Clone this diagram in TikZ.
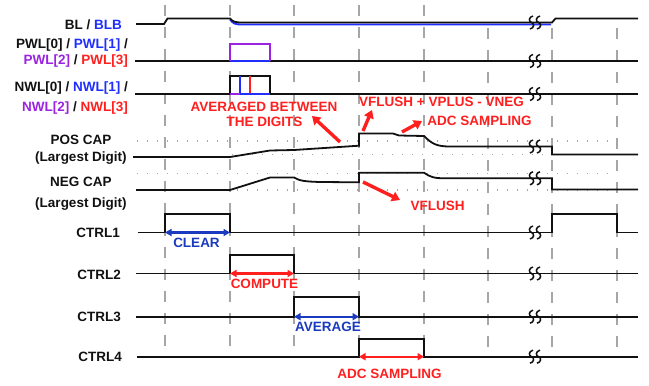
\documentclass[tikz,border=0pt]{standalone}
\usepackage{fontspec}
\setsansfont{Liberation Sans}
\usepackage{tikz}
\usetikzlibrary{positioning,arrows.meta,calc}
\definecolor{ink}      {HTML}{111111}
\definecolor{sigblue}  {HTML}{1F2EFF}
\definecolor{sigpurple}{HTML}{9A22E0}
\definecolor{sigred}   {HTML}{FF1F1F}
\definecolor{spanblue} {HTML}{1A3ABF}
\definecolor{gridgray} {HTML}{A6A6A6}
\tikzset{
  >=stealth,
  every node/.style={font=\sffamily\bfseries\fontsize{13.5}{15}\selectfont,
                     inner sep=0pt, text height=9.7pt, text depth=0pt},
  % --- nodes
  lbl/.style   = {anchor=east, text=ink},
  stack/.style = {text=ink},
  note/.style  = {text=sigred},
  % --- lines
  wave/.style  = {draw=ink, line width=1.8pt},
  tone/.style  = {line width=1.8pt},
  grid/.style  = {draw=gridgray, line width=1.9pt, dash pattern=on 11pt off 11pt},
  dots/.style  = {draw=gridgray, line width=1.4pt, dash pattern=on 1.4pt off 8.6pt},
  span/.style  = {line width=2.4pt, {Triangle[length=6.5pt,width=7pt]}-{Triangle[length=6.5pt,width=7pt]}},
  call/.style  = {draw=sigred, line width=3.4pt, -{Triangle[length=8pt,width=10pt]}},
  brk/.pic     = {
    \draw[ink, line width=1.5pt] (-2,-6.5) .. controls (-6.5,-5.5) and (-6.5,-1) .. (-3.5,0)
                                 .. controls (-0.5,1) and (-0.5,5.5) .. (-5,6.5);
    \draw[ink, line width=1.5pt] (5,-6.5) .. controls (0.5,-5.5) and (0.5,-1) .. (3.5,0)
                                 .. controls (6.5,1) and (6.5,5.5) .. (2,6.5);
  },
}

\begin{document}
\begin{tikzpicture}[x=1pt,y=-1pt]
  \useasboundingbox (0,0) rectangle (649,386);
  % grid
  \foreach \gx in {165,230,294,359,424} \draw[grid] (\gx,5) -- (\gx,357);
  \foreach \gx in {488,552,617} \draw[grid] (\gx,28) -- (\gx,357);
  \draw[dots] (137,141) -- (612,141);
  \draw[dots] (232,154.5) -- (612,154.5);
  \draw[dots] (137,173.5) -- (612,173.5);
  \draw[dots] (137,190) -- (612,190);

  % signal names
  \node[lbl] (bl) at (122,24.5) {BL / \textcolor{sigblue}{BLB}};
  \node[lbl] (pwla) at (128,44) {PWL[0] / \textcolor{sigblue}{PWL[1]} /};
  \node[lbl] (pwlb) at (128,60) {\textcolor{sigpurple}{PWL[2]} / \textcolor{sigred}{PWL[3]}};
  \node[lbl] (nwla) at (128,86.5) {NWL[0] / \textcolor{sigblue}{NWL[1]} /};
  \node[lbl] (nwlb) at (128,106.7) {\textcolor{sigpurple}{NWL[2]} / \textcolor{sigred}{NWL[3]}};
  \node[stack] (pos) at (81,140) {POS CAP};
  \node[stack] (posd) at (81,156.7) {(Largest Digit)};
  \node[stack] (neg) at (81,182) {NEG CAP};
  \node[stack] (negd) at (81,203) {(Largest Digit)};
  \node[lbl] (ca) at (120,232.7) {CTRL1};
  \node[lbl] (cb) at (121,275) {CTRL2};
  \node[lbl] (cc) at (121,316.7) {CTRL3};
  \node[lbl] (cd) at (122,357) {CTRL4};

  % BL / BLB
  \draw[tone, sigblue] (230,19.5) .. controls (233,24) and (236,24.5) .. (242,24.5) -- (551,24.5);
  \draw[wave] (136,24) -- (164,24) -- (167.5,18.5) -- (230,18.5)
    .. controls (233,22) and (236,22.5) .. (242,22.5) -- (552,22.5) -- (555.5,18.5) -- (638,18.5);
  % PWL
  \draw[wave] (135,61) -- (638,61);
  \draw[tone, sigblue] (230,61) -- (270,61);
  \draw[tone, sigpurple] (230,61) -- (230,44) -- (270,44) -- (270,61);
  % NWL
  \draw[wave] (135,94) -- (638,94);
  \draw[wave] (230,94) -- (230,76) -- (270,76) -- (270,94);
  \draw[tone, sigblue] (240,94) -- (240,76);
  \draw[tone, sigred] (250,94) -- (250,76);
  \draw[tone, sigpurple] (230,94) -- (240,94);
  \draw[tone, sigblue] (240,94) -- (270,94);
  % POS CAP
  \draw[wave] (133,157) -- (230,157) -- (270,150.5) -- (294,150) -- (359,145.7) -- (359,133.5)
    -- (393,133.5) -- (399,135.5) -- (424,136) .. controls (432,144) and (437,146.5) .. (450,146.5)
    -- (552,146.5) -- (552,154.5) -- (638,154.5);
  % NEG CAP
  \draw[wave] (136,190) -- (230,190) -- (270,177.5) -- (294,177.5)
    .. controls (300,181) and (305,181.5) .. (320,182) -- (359,182.3) -- (359,172.7) -- (424,172.7)
    .. controls (430,177) and (434,178.3) .. (445,178.3) -- (552,178.3) -- (552,189.5) -- (638,189.5);
  % CTRL1..4
  \draw[wave] (138,232.5) -- (165,232.5) coordinate (clr-a) -- (165,214) -- (230,214)
    -- (230,232.5) coordinate (clr-b) -- (552,232.5) -- (552,214) -- (617,214) -- (617,232.5) -- (638,232.5);
  \draw[wave] (136,273.5) -- (230,273.5) coordinate (cmp-a) -- (230,255) -- (294,255)
    -- (294,273.5) coordinate (cmp-b) -- (638,273.5);
  \draw[wave] (136,316.7) -- (294,316.7) coordinate (avr-a) -- (294,297.3) -- (359,297.3)
    -- (359,316.7) coordinate (avr-b) -- (638,316.7);
  \draw[wave] (137,356.7) -- (359,356.7) coordinate (adc-a) -- (359,339) -- (424,339)
    -- (424,356.7) coordinate (adc-b) -- (638,356.7);

  % breaks
  \foreach \by in {22.5,61,94,146.5,178.3,232.5,273.5,316.7,356.7} \pic at (535,\by) {brk};

  % phases
  \draw[span, spanblue] (clr-a) -- (clr-b);
  \draw[span, sigred] (cmp-a) -- (cmp-b);
  \draw[span, spanblue] (avr-a) -- (avr-b);
  \draw[span, sigred] (adc-a) -- (adc-b);
  \node[text=spanblue] (clr) at (196.5,243) {CLEAR};
  \node[text=sigred] (cmp) at (264.5,284) {COMPUTE};
  \node[text=spanblue] (avr) at (328,326.7) {AVERAGE};
  \node[text=sigred] (adc) at (389.5,374) {ADC SAMPLING};

  % notes
  \node[note] (avg) at (264,106.7) {AVERAGED BETWEEN};
  \node[note] (avgb) at (264.5,121.7) {THE DIGITS};
  \node[note] (vfp) at (441.5,102) {VFLUSH + VPLUS - VNEG};
  \node[note] (smp) at (479.5,120.5) {ADC SAMPLING};
  \node[note] (vfl) at (437.5,206) {VFLUSH};
  \coordinate (avg-from) at (340,142);  \coordinate (avg-to) at (312,116);
  \coordinate (vfp-from) at (363,131);  \coordinate (vfp-to) at (372,110);
  \coordinate (smp-from) at (402,132);  \coordinate (smp-to) at (422,121);
  \coordinate (vfl-from) at (363,182);  \coordinate (vfl-to) at (400,200);
  \draw[call] (avg-from) -- (avg-to);
  \draw[call] (vfp-from) -- (vfp-to);
  \draw[call] (smp-from) -- (smp-to);
  \draw[call] (vfl-from) -- (vfl-to);
\end{tikzpicture}
\end{document}
